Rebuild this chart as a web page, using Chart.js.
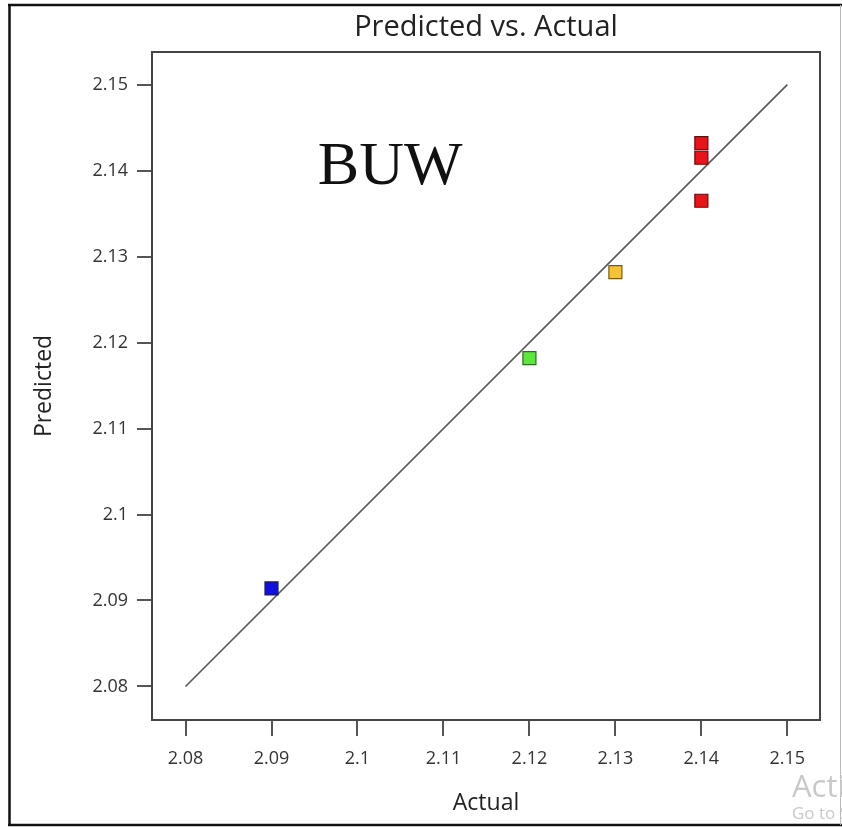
<!DOCTYPE html>
<html>
<head>
<meta charset="utf-8">
<script src="https://cdn.jsdelivr.net/npm/chart.js@4/dist/chart.umd.min.js"></script>
<style>
html,body{margin:0;padding:0;background:#fff;}
#wrap{width:842px;height:827px;position:relative;}
</style>
</head>
<body>
<div id="wrap"><canvas id="c" width="842" height="827"></canvas></div>
<script>
// ---- data ----
const actual    = [2.09, 2.12, 2.13, 2.14, 2.14, 2.14];
const predicted = [2.0914, 2.1182, 2.1282, 2.1432, 2.1415, 2.1365];
const pointColors = ['#1010e0', '#5fe63c', '#f5c236', '#e8141c', '#e8141c', '#e8141c'];
const pointBorders = ['#1c1c5a', '#2f6b22', '#7a5c10', '#6a0a0a', '#6a0a0a', '#6a0a0a'];
const tickValues = [2.08, 2.09, 2.1, 2.11, 2.12, 2.13, 2.14, 2.15];
const tickLabels = ['2.08', '2.09', '2.1', '2.11', '2.12', '2.13', '2.14', '2.15'];
const axisMin = 2.0761, axisMax = 2.1538;
const lineStart = 2.08, lineEnd = 2.15;
const titleText = 'Predicted vs. Actual';
const xTitle = 'Actual', yTitle = 'Predicted';
const annotation = 'BUW';
const annotationPos = {x: 2.1038, y: 2.1385};

const FONT = "'Open Sans', 'Noto Sans', sans-serif";

const decor = {
  id: 'decor',
  beforeDraw(chart) {
    const ctx = chart.ctx;
    ctx.save();
    ctx.fillStyle = '#fff';
    ctx.fillRect(0, 0, chart.width, chart.height);
    // outer frame
    ctx.strokeStyle = '#111';
    ctx.lineWidth = 2.5;
    ctx.beginPath();
    ctx.moveTo(9.5, 5); ctx.lineTo(9.5, 825);
    ctx.moveTo(8, 5); ctx.lineTo(842, 5);
    ctx.moveTo(8, 825); ctx.lineTo(842, 825);
    ctx.stroke();
    ctx.strokeStyle = '#bbb';
    ctx.lineWidth = 1;
    ctx.beginPath();
    ctx.moveTo(840.5, 5); ctx.lineTo(840.5, 825);
    ctx.stroke();
    ctx.restore();
  },
  afterDraw(chart) {
    const ctx = chart.ctx;
    const a = chart.chartArea;
    const xs = chart.scales.x, ys = chart.scales.y;
    ctx.save();
    // top/right frame
    ctx.strokeStyle = '#444';
    ctx.lineWidth = 2;
    ctx.strokeRect(a.left, a.top, a.right - a.left, a.bottom - a.top);
    // title
    ctx.fillStyle = '#222';
    ctx.textAlign = 'center';
    ctx.textBaseline = 'middle';
    ctx.font = "29px " + FONT;
    ctx.fillText(titleText, (a.left + a.right) / 2, 28);
    // axis titles
    ctx.font = "23px " + FONT;
    ctx.fillText(xTitle, (a.left + a.right) / 2, 803);
    ctx.save();
    ctx.translate(44, (a.top + a.bottom) / 2);
    ctx.rotate(-Math.PI / 2);
    ctx.fillText(yTitle, 0, 0);
    ctx.restore();
    // annotation
    ctx.font = "62px 'Liberation Serif', 'Times New Roman', serif";
    ctx.fillStyle = '#111';
    ctx.textBaseline = 'alphabetic';
    ctx.fillText(annotation, xs.getPixelForValue(annotationPos.x), ys.getPixelForValue(annotationPos.y));
    // watermark
    ctx.fillStyle = '#c9c9c9';
    ctx.textAlign = 'left';
    ctx.font = "31px " + FONT;
    ctx.fillText('Activate Windows', 792, 797);
    ctx.font = "17px " + FONT;
    ctx.fillText('Go to Settings', 792, 819);
    ctx.restore();
  }
};

const tickOpts = (size) => ({
  color: '#333',
  font: {family: FONT, size: size},
  autoSkip: false,
  maxRotation: 0,
  callback: (v) => {
    const i = tickValues.findIndex(t => Math.abs(t - v) < 1e-9);
    return i >= 0 ? tickLabels[i] : '';
  }
});

new Chart(document.getElementById('c'), {
  type: 'scatter',
  data: {
    datasets: [
      {
        type: 'line',
        data: [{x: lineStart, y: lineStart}, {x: lineEnd, y: lineEnd}],
        borderColor: '#555',
        borderWidth: 1.6,
        pointRadius: 0,
        fill: false,
        order: 2
      },
      {
        data: actual.map((v, i) => ({x: v, y: predicted[i]})),
        pointStyle: 'rect',
        pointRadius: 9.2,
        backgroundColor: pointColors,
        borderColor: pointBorders,
        borderWidth: 1.2,
        order: 1
      }
    ]
  },
  plugins: [decor],
  options: {
    responsive: false,
    animation: false,
    devicePixelRatio: 1,
    layout: {padding: {top: 52, right: 22, left: 0, bottom: 0}},
    plugins: {legend: {display: false}, tooltip: {enabled: false}, title: {display: false}},
    scales: {
      x: {
        type: 'linear',
        min: axisMin, max: axisMax,
        afterBuildTicks: (s) => { s.ticks = tickValues.map(v => ({value: v})); },
        afterFit: (s) => { s.height = 107; },
        grid: {drawOnChartArea: false, drawTicks: true, tickLength: 16, color: '#555', lineWidth: 2},
        border: {display: true, color: '#444', width: 2},
        ticks: Object.assign(tickOpts(18), {padding: 12})
      },
      y: {
        type: 'linear',
        min: axisMin, max: axisMax,
        afterBuildTicks: (s) => { s.ticks = tickValues.map(v => ({value: v})); },
        afterFit: (s) => { s.width = 152; },
        grid: {drawOnChartArea: false, drawTicks: true, tickLength: 15, color: '#555', lineWidth: 2},
        border: {display: true, color: '#444', width: 2},
        ticks: Object.assign(tickOpts(18), {padding: 9})
      }
    }
  }
});
</script>
</body>
</html>
